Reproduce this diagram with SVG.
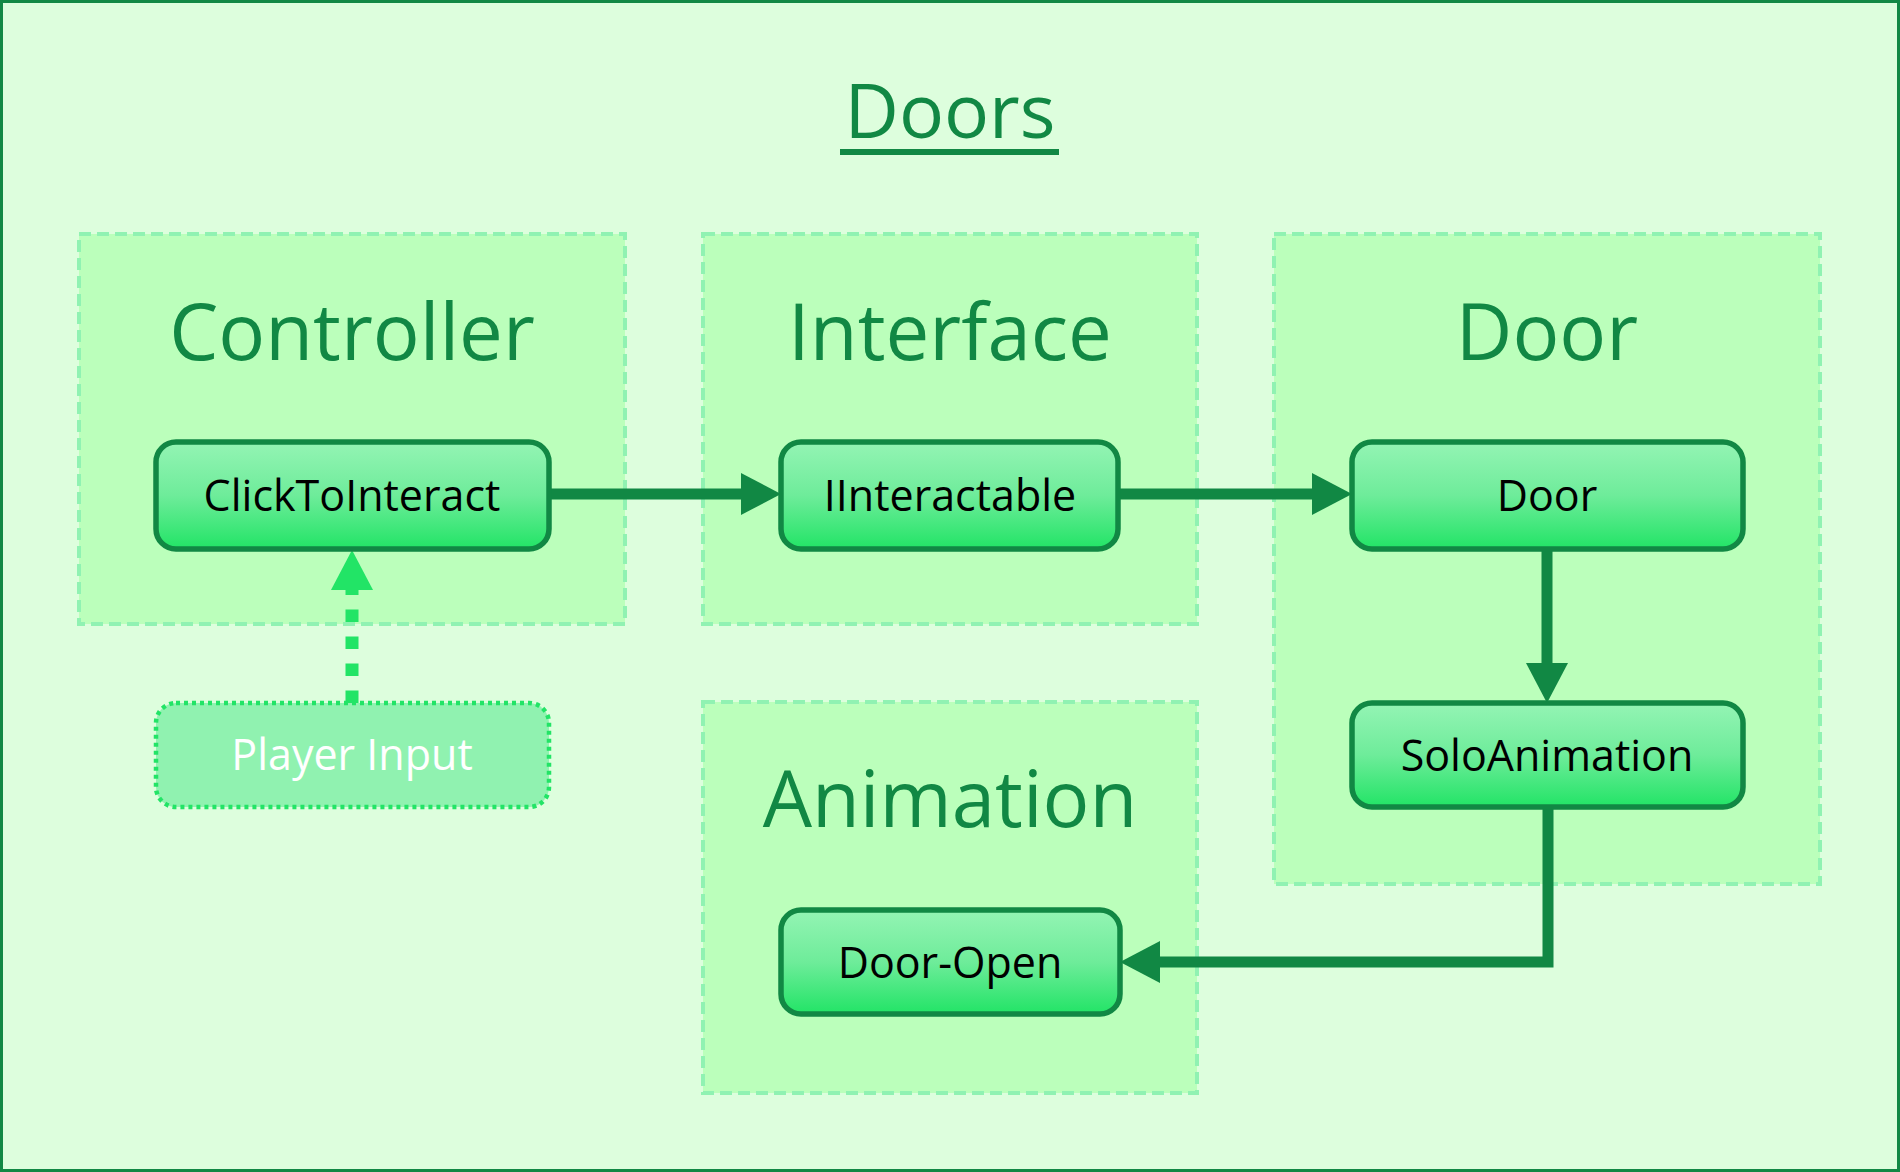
<svg xmlns="http://www.w3.org/2000/svg" width="1900" height="1172" viewBox="0 0 1900 1172">
<defs>
<linearGradient id="ng" x1="0" y1="0" x2="0" y2="1">
<stop offset="0" stop-color="#94f4b4"/>
<stop offset="0.5" stop-color="#6eec9a"/>
<stop offset="1" stop-color="#22e466"/>
</linearGradient>
<marker id="ah" viewBox="0 0 40 42" refX="0" refY="21" markerWidth="40" markerHeight="42" markerUnits="userSpaceOnUse" orient="auto">
<path d="M0,0 L40,21 L0,42 Z" fill="#118844"/>
</marker>
<marker id="ahl" viewBox="0 0 40 42" refX="0" refY="21" markerWidth="40" markerHeight="42" markerUnits="userSpaceOnUse" orient="auto">
<path d="M0,0 L40,21 L0,42 Z" fill="#22e466"/>
</marker>
</defs>
<style>
.grp{fill:#bbffbb;stroke:#90f2b2;stroke-width:4;stroke-dasharray:12 6;}
.gt{font-family:"Open Sans","Noto Sans",sans-serif;font-size:78px;fill:#118844;text-anchor:middle;}
.node{fill:url(#ng);stroke:#118844;stroke-width:5.5;}
.nt{font-family:"Open Sans","Noto Sans",sans-serif;font-size:43px;fill:#000000;text-anchor:middle;}
.conn{fill:none;stroke:#118844;stroke-width:11;}
</style>
<rect x="1.5" y="1.5" width="1897" height="1169" fill="#ddfedd" stroke="#118844" stroke-width="3"/>
<g id="title">
<text x="950" y="138" font-family="'Open Sans','Noto Sans',sans-serif" font-size="75" fill="#118844" text-anchor="middle">Doors</text>
<line x1="840" y1="152" x2="1059" y2="152" stroke="#118844" stroke-width="6"/>
</g>
<g id="group-controller">
<rect class="grp" x="79" y="234" width="546" height="390"/>
<text class="gt" x="352" y="360">Controller</text>
</g>
<g id="group-interface">
<rect class="grp" x="703" y="234" width="494" height="390"/>
<text class="gt" x="950" y="360">Interface</text>
</g>
<g id="group-door">
<rect class="grp" x="1274" y="234" width="546" height="650"/>
<text class="gt" x="1547" y="360">Door</text>
</g>
<g id="group-animation">
<rect class="grp" x="703" y="702" width="494" height="391"/>
<text class="gt" x="950" y="827">Animation</text>
</g>
<g id="connectors">
<line class="conn" x1="549" y1="494" x2="741" y2="494" marker-end="url(#ah)"/>
<line class="conn" x1="1118" y1="494" x2="1312" y2="494" marker-end="url(#ah)"/>
<line class="conn" x1="1547" y1="549" x2="1547" y2="663" marker-end="url(#ah)"/>
<path class="conn" d="M1548,806 V962 H1160" marker-end="url(#ah)"/>
<line x1="352" y1="703" x2="352" y2="590" stroke="#22e466" stroke-width="13" stroke-dasharray="12.5 14.5" marker-end="url(#ahl)"/>
</g>
<g id="node-clicktointeract">
<rect class="node" x="156" y="442" width="393" height="107" rx="20"/>
<text class="nt" x="352" y="511">ClickToInteract</text>
</g>
<g id="node-playerinput">
<rect x="156" y="703" width="393" height="104" rx="20" fill="#90f2b0" stroke="#22e466" stroke-width="4.5" stroke-dasharray="4 4"/>
<text class="nt" x="352" y="770" style="fill:#ffffff">Player Input</text>
</g>
<g id="node-iinteractable">
<rect class="node" x="781" y="442" width="337" height="107" rx="20"/>
<text class="nt" x="950" y="511">IInteractable</text>
</g>
<g id="node-door">
<rect class="node" x="1352" y="442" width="391" height="107" rx="20"/>
<text class="nt" x="1547" y="511">Door</text>
</g>
<g id="node-soloanimation">
<rect class="node" x="1352" y="703" width="391" height="104" rx="20"/>
<text class="nt" x="1547" y="771">SoloAnimation</text>
</g>
<g id="node-dooropen">
<rect class="node" x="781" y="910" width="339" height="104" rx="20"/>
<text class="nt" x="950" y="978">Door-Open</text>
</g>
</svg>
